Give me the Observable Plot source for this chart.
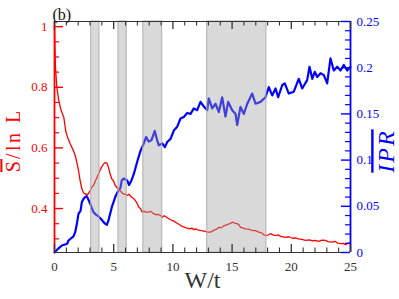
<!DOCTYPE html>
<html><head><meta charset="utf-8">
<script src="https://cdn.jsdelivr.net/npm/d3@7"></script>
<script src="https://cdn.jsdelivr.net/npm/@observablehq/plot@0.6"></script>
<style>body{margin:0;background:#fff}</style>
</head><body><div id="chart"></div>
<script>
// Entropy S/ln L vs W/t (left axis)
const wS = [0,0.04,0.08,0.2,0.36,0.55,0.79,0.95,1.15,1.33,1.6,1.75,1.9,2.03,2.15,2.31,2.45,2.59,2.81,3.02,3.15,3.29,3.5,3.72,3.95,4.14,4.3,4.45,4.6,4.7,4.84,5.0,5.13,5.35,5.55,5.7,5.83,6.0,6.14,6.28,6.5,6.7,6.84,7.0,7.12,7.26,7.41,7.55,7.69,7.96,8.11,8.3,8.53,8.75,8.95,9.1,9.25,9.38,9.6,9.8,10.0,10.22,10.5,10.79,11.0,11.21,11.49,11.6,11.77,11.91,12.1,12.4,12.75,12.9,13.18,13.45,13.74,13.88,14.1,14.3,14.59,14.8,15.01,15.2,15.4,15.57,15.71,15.9,16.13,16.4,16.6,16.83,16.98,17.2,17.54,17.68,17.96,18.24,18.45,18.67,18.9,19.1,19.51,19.8,20.1,20.35,20.6,20.9,21.2,21.5,21.8,22.04,22.3,22.6,22.89,23.1,23.45,23.7,23.9,24.16,24.4,24.58,24.8,25.0];
const sVals = [1.0,0.93,0.865,0.80,0.756,0.725,0.70,0.655,0.63,0.613,0.591,0.575,0.55,0.525,0.495,0.465,0.452,0.448,0.446,0.459,0.47,0.476,0.495,0.514,0.535,0.547,0.552,0.549,0.53,0.514,0.498,0.49,0.476,0.466,0.459,0.452,0.448,0.447,0.443,0.447,0.438,0.432,0.426,0.415,0.404,0.400,0.388,0.392,0.388,0.388,0.391,0.385,0.380,0.381,0.377,0.371,0.376,0.374,0.368,0.363,0.360,0.355,0.348,0.341,0.338,0.335,0.333,0.336,0.330,0.333,0.330,0.327,0.325,0.322,0.322,0.328,0.333,0.338,0.337,0.343,0.347,0.350,0.355,0.352,0.350,0.347,0.338,0.336,0.333,0.332,0.329,0.327,0.327,0.323,0.319,0.313,0.311,0.317,0.313,0.311,0.313,0.308,0.305,0.307,0.302,0.303,0.300,0.298,0.295,0.297,0.293,0.295,0.292,0.296,0.295,0.291,0.289,0.292,0.286,0.284,0.285,0.281,0.286,0.286];

// IPR vs W/t (right axis)
const wIPR = [0,0.3,0.62,1.07,1.18,1.6,1.75,1.9,2.03,2.2,2.31,2.45,2.59,2.73,2.87,3.02,3.15,3.29,3.5,3.72,3.95,4.14,4.3,4.42,4.56,4.7,4.84,5.0,5.13,5.27,5.41,5.57,5.68,5.85,6.14,6.3,6.5,6.7,6.98,7.26,7.54,7.74,7.96,8.19,8.47,8.67,8.81,9.1,9.32,9.52,9.8,10.08,10.36,10.64,10.92,11.21,11.49,11.77,12.05,12.33,12.61,12.9,13.03,13.32,13.6,13.88,14.16,14.44,14.67,15.01,15.29,15.43,15.71,15.99,16.28,16.7,16.98,17.4,17.82,18.1,18.39,18.67,18.89,19.23,19.45,19.79,20.21,20.63,20.92,21.34,21.54,21.77,21.98,22.19,22.47,22.75,23.03,23.31,23.59,23.88,24.16,24.43,24.72,25.0];
const iprVals = [0,0.004,0.0076,0.0095,0.013,0.0174,0.022,0.032,0.042,0.045,0.0546,0.058,0.060,0.061,0.057,0.0528,0.048,0.0437,0.041,0.039,0.036,0.0329,0.031,0.030,0.0347,0.042,0.049,0.055,0.060,0.064,0.067,0.070,0.078,0.080,0.078,0.073,0.078,0.085,0.098,0.110,0.118,0.125,0.120,0.1215,0.1315,0.1215,0.116,0.118,0.114,0.1196,0.123,0.132,0.136,0.145,0.1467,0.151,0.150,0.156,0.154,0.163,0.158,0.154,0.1667,0.156,0.161,0.152,0.168,0.147,0.163,0.154,0.150,0.138,0.1576,0.150,0.161,0.172,0.161,0.163,0.168,0.179,0.170,0.1775,0.168,0.181,0.183,0.172,0.174,0.188,0.1775,0.1865,0.201,0.188,0.1955,0.190,0.194,0.192,0.183,0.210,0.197,0.201,0.197,0.203,0.197,0.201];

// shaded W/t intervals
const bandStart = [3.1, 5.4, 7.5, 12.9];
const bandEnd   = [3.8, 6.1, 9.1, 17.9];

// tick values
const xMajor = [0,5,10,15,20,25];
const xMinor = d3.range(0,26,1).filter(v => v % 5 !== 0);
const sMajor = [0.4,0.6,0.8,1];
const sMinor = [0.3,0.35,0.45,0.5,0.55,0.65,0.7,0.75,0.85,0.9,0.95];
const iprMajor = [0,0.05,0.1,0.15,0.2,0.25];
const iprMinor = d3.range(0,0.25,0.01).map(v => +v.toFixed(2)).filter(v => Math.round(v*100) % 5 !== 0);

const sData = wS.map((w,i) => ({w, v: sVals[i]}));
const iData = wIPR.map((w,i) => ({w, v: iprVals[i]}));
const bands = bandStart.map((a,i) => ({a, b: bandEnd[i]}));

const yMin = 0.255, yMax = 1.017, iMax = 0.25;
const f = v => yMin + v / iMax * (yMax - yMin);
const finv = y => (y - yMin) / (yMax - yMin) * iMax;

const W = 399, H = 299, mL = 54, mR = 49, mT = 21, mB = 47;
const fw = W - mL - mR, fh = H - mT - mB;
const RED = "#ff0000", BLUE = "#0000ff", DARK = "#333";
const SERIF = "Liberation Serif, Times New Roman, serif";

const plot = Plot.plot({
  width: W, height: H,
  marginLeft: mL, marginRight: mR, marginTop: mT, marginBottom: mB,
  style: {fontFamily: SERIF, fontSize: "13px", background: "#fff"},
  x: {domain: [0, 25], axis: null},
  y: {domain: [yMin, yMax], axis: null},
  marks: [
    Plot.line(iData, {x: "w", y: d => f(d.v), stroke: BLUE, strokeWidth: 2.2}),
    Plot.line(sData, {x: "w", y: "v", stroke: RED, strokeWidth: 1.3}),
    Plot.rect(bands, {x1: "a", x2: "b", fill: "#a0a0a0", fillOpacity: 0.4, stroke: "#b0b0b0", strokeWidth: 1}),
    // frame
    Plot.ruleY([yMax], {stroke: DARK, strokeWidth: 1.2}),
    Plot.ruleY([yMin], {stroke: DARK, strokeWidth: 1.2}),
    Plot.ruleX([0], {stroke: RED, strokeWidth: 1.8}),
    Plot.ruleX([25], {stroke: BLUE, strokeWidth: 1.8}),
    // inward ticks
    Plot.tickX(xMajor, {x: d => d, insetTop: fh - 8, stroke: DARK, strokeWidth: 1.3}),
    Plot.tickX(xMinor, {x: d => d, insetTop: fh - 4.5, stroke: DARK, strokeWidth: 1.1}),
    Plot.tickX(xMajor, {x: d => d, insetBottom: fh - 8, stroke: DARK, strokeWidth: 1.3}),
    Plot.tickX(xMinor, {x: d => d, insetBottom: fh - 4.5, stroke: DARK, strokeWidth: 1.1}),
    Plot.tickY(sMajor, {y: d => d, insetRight: fw - 9, stroke: RED, strokeWidth: 1.4}),
    Plot.tickY(sMinor, {y: d => d, insetRight: fw - 5, stroke: RED, strokeWidth: 1.2}),
    Plot.tickY(iprMajor, {y: d => f(d), insetLeft: fw - 9, stroke: BLUE, strokeWidth: 1.4}),
    Plot.tickY(iprMinor, {y: d => f(d), insetLeft: fw - 5, stroke: BLUE, strokeWidth: 1.2}),
    // tick labels
    Plot.axisX({ticks: xMajor, tickSize: 0, tickPadding: 9, color: DARK, label: null, fontSize: 13}),
    Plot.axisY({anchor: "left", ticks: sMajor, tickSize: 0, tickPadding: 7, color: RED, label: null, fontSize: 13, tickFormat: d => String(d)}),
    Plot.axisY({anchor: "right", ticks: iprMajor.map(f), tickSize: 0, tickPadding: 6, color: BLUE, label: null, fontSize: 13, tickFormat: d => String(+finv(d).toFixed(2))}),
    // titles
    Plot.text(["W/t"], {frameAnchor: "bottom", dy: 35, textAnchor: "middle", fontSize: 24, fontFamily: SERIF, fill: DARK}),
    Plot.text(["S"], {frameAnchor: "left", dx: -40.5, dy: 22, textAnchor: "end", rotate: -90, fontSize: 20, fontFamily: SERIF, fill: RED}),
    Plot.text(["/ln L"], {frameAnchor: "left", dx: -40.5, dy: 22, textAnchor: "start", rotate: -90, fontSize: 20, fontFamily: SERIF, fill: RED}),
    Plot.text(["IPR"], {frameAnchor: "right", dx: 36, dy: 14, textAnchor: "middle", rotate: -90, fontSize: 24, fontFamily: SERIF, fontStyle: "italic", fill: BLUE}),
    Plot.text(["(b)"], {frameAnchor: "top-left", dx: -2, dy: -13, textAnchor: "start", fontSize: 16, fontFamily: SERIF, fill: "#111"})
  ]
});

d3.select(plot).selectAll("text").each(function() {
  const t = this.textContent;
  if (t === "S") { this.style.textDecoration = "overline"; this.style.letterSpacing = "2px"; }
  if (t === "/ln L") this.style.letterSpacing = "2.5px";
  if (t === "IPR") { this.style.textDecoration = "overline"; this.style.letterSpacing = "2px"; }
});
document.getElementById("chart").appendChild(plot);
</script>
</body></html>
